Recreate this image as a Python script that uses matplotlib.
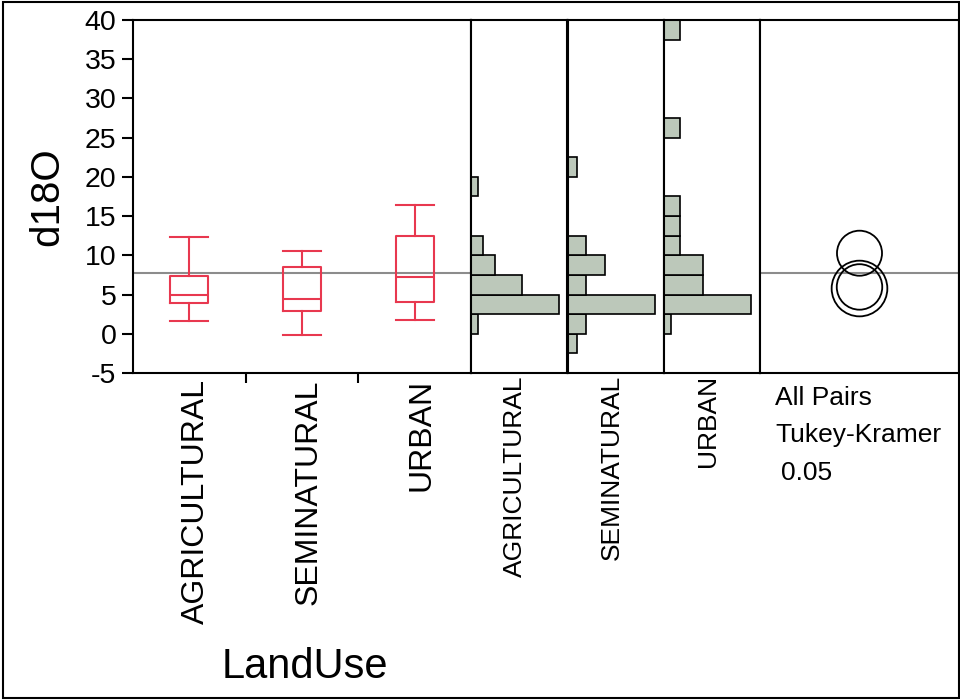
import matplotlib
matplotlib.use("Agg")
import matplotlib.pyplot as plt
from matplotlib.patches import Circle, Rectangle
from matplotlib.transforms import ScaledTranslation

plt.rcParams['font.family'] = ['Liberation Sans', 'DejaVu Sans']
plt.rcParams['axes.unicode_minus'] = False

# ---- data ----
categories = ["AGRICULTURAL", "SEMINATURAL", "URBAN"]

# box plot summaries (d18O)
whislo = [1.6, -0.2, 1.8]
q1 = [3.9, 2.85, 4.1]
med = [4.9, 4.4, 7.2]
q3 = [7.4, 8.45, 12.5]
whishi = [12.3, 10.5, 16.4]

grand_mean = 7.7

# histograms: lower bin edges (bin width 2.5) and counts
bin_width = 2.5
agri_bins = [0, 2.5, 5, 7.5, 10, 17.5]
agri_counts = [1, 13, 7.5, 3.6, 1.8, 1]
semi_bins = [-2.5, 0, 2.5, 5, 7.5, 10, 20]
semi_counts = [1, 2, 9.4, 2, 4, 2, 1]
urban_bins = [0, 2.5, 5, 7.5, 10, 12.5, 15, 25, 37.5]
urban_counts = [1, 12, 5.3, 5.3, 2.15, 2.15, 2.15, 2.15, 2.15]

# comparison circles (Tukey-Kramer): centers = group means, radii
circle_means = [5.97, 5.77, 10.27]
circle_radii = [2.9, 3.55, 2.87]

ylim = (-5, 40)
box_color = "#E8384F"
hist_color = "#BCC8BA"
gray = "#8C8C8C"

W, H = 960, 700
fig = plt.figure(figsize=(W / 100, H / 100), dpi=100)

top_px, bot_px = 20, 373
edges = [133, 471, 567.5, 664, 760, 959]


def make_ax(x0, x1):
    ax = fig.add_axes([x0 / W, 1 - bot_px / H, (x1 - x0) / W, (bot_px - top_px) / H])
    ax.set_ylim(*ylim)
    for s in ax.spines.values():
        s.set_linewidth(1.5)
        s.set_color("black")
    return ax


# ---- box plot panel ----
ax = make_ax(edges[0], edges[1])
stats = []
for i in range(len(categories)):
    stats.append(dict(whislo=whislo[i], q1=q1[i], med=med[i], q3=q3[i],
                      whishi=whishi[i], fliers=[], label=categories[i]))
props = dict(color=box_color, linewidth=1.5)
ax.bxp(stats, positions=range(len(categories)), widths=0.34, showfliers=False,
       boxprops=props, medianprops=props, whiskerprops=props, capprops=props,
       capwidths=0.34)
ax.set_xlim(-0.5, len(categories) - 0.5)
ax.axhline(grand_mean, color=gray, lw=1.5, zorder=0)

ax.set_xticks([0.5, 1.5])
ax.set_xticklabels([])
ax.set_xticks(range(len(categories)), minor=True)
ax.set_xticklabels(categories, minor=True, rotation=90, fontsize=23, va="top", ha="center")
ax.tick_params(axis="x", which="major", length=7, width=1.5, direction="out")
ax.tick_params(axis="x", which="minor", length=0, pad=4.5)
offset = ScaledTranslation(0.065, 0, fig.dpi_scale_trans)
for lab in ax.get_xticklabels(minor=True):
    lab.set_transform(lab.get_transform() + offset)

ax.set_yticks(range(-5, 41, 5))
ax.tick_params(axis="y", length=8, width=1.5, labelsize=20.5, pad=4)

# ---- histogram panels ----
hist_data = [(agri_bins, agri_counts), (semi_bins, semi_counts), (urban_bins, urban_counts)]
for k, (bins, counts) in enumerate(hist_data):
    hx = make_ax(edges[k + 1], edges[k + 2])
    hx.barh(bins, counts, height=bin_width, align="edge", color=hist_color,
            edgecolor="black", linewidth=1.2)
    hx.set_xlim(0, max(counts) / 0.91)
    hx.set_xticks([])
    hx.set_yticks([])
    hx.annotate(categories[k], xy=(0.5, 0), xycoords="axes fraction",
                xytext=(-3.0, -1.5), textcoords="offset points",
                rotation=90, ha="center", va="top", fontsize=19)

# ---- comparison circles panel ----
cx = make_ax(edges[4], edges[5])
span = (ylim[1] - ylim[0]) * (edges[5] - edges[4]) / (bot_px - top_px)
cx.set_xlim(-span / 2, span / 2)
cx.axhline(grand_mean, color=gray, lw=1.5, zorder=0)
for m, r in zip(circle_means, circle_radii):
    cx.add_patch(Circle((0, m), r, fill=False, edgecolor="black", lw=1.3))
cx.set_xticks([])
cx.set_yticks([])

fig.text(775 / W, 1 - 405 / H, "All Pairs", fontsize=19, va="baseline", ha="left")
fig.text(775 / W, 1 - 442 / H, "Tukey-Kramer", fontsize=19, va="baseline", ha="left")
fig.text(781 / W, 1 - 480 / H, "0.05", fontsize=19, va="baseline", ha="left")

# axis titles
fig.text(47 / W, 1 - 197 / H, "d18O", fontsize=29, rotation=90, ha="center", va="center")
fig.text(305 / W, 1 - 678 / H, "LandUse", fontsize=30, ha="center", va="baseline")

# outer frame
fig.patches.append(Rectangle((3 / W, 2 / H), 956 / W, 696 / H, transform=fig.transFigure,
                             fill=False, edgecolor="black", lw=1.5))

fig.savefig("out.png", dpi=100)
